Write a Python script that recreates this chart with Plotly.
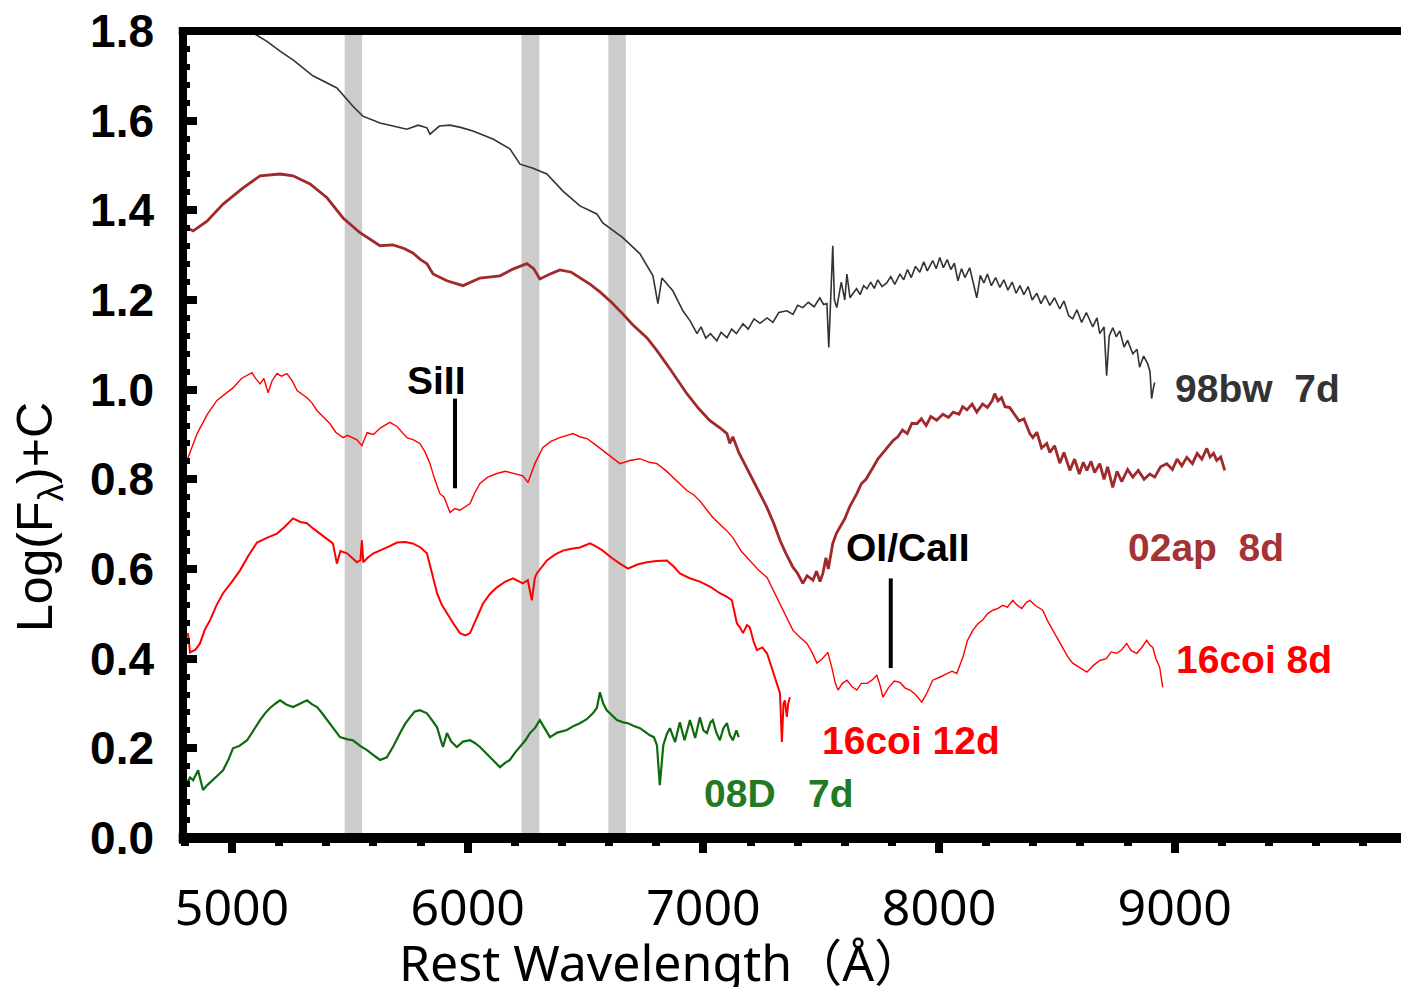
import plotly.graph_objects as go

# ---------------- data ----------------
w_98bw = [5060, 5148, 5204, 5260, 5343, 5445, 5513, 5555, 5628, 5690, 5742, 5790, 5827, 5840, 5880, 5925,
          5970, 6022, 6107, 6179, 6222, 6277, 6336, 6404, 6476, 6548, 6573, 6658, 6731, 6786, 6807, 6824,
          6871, 6913, 6943, 6973, 6990, 7010, 7030, 7057, 7075, 7100, 7120, 7140, 7168, 7190, 7215, 7240,
          7270, 7295, 7320, 7354, 7380, 7400, 7422, 7445, 7470, 7494, 7510, 7524, 7532, 7540, 7549, 7556,
          7566, 7585, 7600, 7609, 7622, 7634, 7650, 7665, 7680, 7694, 7710, 7725, 7740, 7758, 7778, 7795,
          7812, 7834, 7850, 7866, 7882, 7900, 7918, 7935, 7950, 7973, 7988, 8003, 8018, 8035, 8050, 8065,
          8080, 8095, 8110, 8130, 8145, 8160, 8175, 8190, 8205, 8222, 8240, 8258, 8275, 8292, 8310, 8327,
          8343, 8360, 8378, 8395, 8415, 8432, 8450, 8470, 8490, 8512, 8530, 8550, 8567, 8585, 8605, 8625,
          8652, 8670, 8682, 8700, 8711, 8722, 8737, 8752, 8767, 8785, 8800, 8822, 8840, 8851, 8868, 8885,
          8895, 8902, 8910, 8915]
f_98bw = [1.805, 1.777, 1.755, 1.735, 1.700, 1.673, 1.632, 1.610, 1.595, 1.588, 1.581, 1.590, 1.584, 1.570,
          1.588, 1.590, 1.585, 1.577, 1.559, 1.537, 1.503, 1.494, 1.481, 1.443, 1.410, 1.392, 1.372, 1.339,
          1.303, 1.254, 1.192, 1.249, 1.220, 1.176, 1.154, 1.125, 1.140, 1.115, 1.125, 1.109, 1.128, 1.116,
          1.135, 1.125, 1.147, 1.135, 1.158, 1.148, 1.160, 1.150, 1.172, 1.176, 1.168, 1.188, 1.183, 1.195,
          1.185, 1.205, 1.190, 1.192, 1.094, 1.200, 1.321, 1.200, 1.183, 1.240, 1.200, 1.258, 1.205, 1.214,
          1.225, 1.212, 1.232, 1.225, 1.240, 1.226, 1.245, 1.230, 1.238, 1.252, 1.235, 1.258, 1.245, 1.268,
          1.250, 1.275, 1.262, 1.285, 1.265, 1.288, 1.270, 1.295, 1.272, 1.290, 1.268, 1.282, 1.243, 1.270,
          1.250, 1.272, 1.240, 1.205, 1.255, 1.238, 1.258, 1.232, 1.250, 1.228, 1.245, 1.222, 1.240, 1.215,
          1.232, 1.212, 1.230, 1.200, 1.215, 1.192, 1.210, 1.188, 1.205, 1.180, 1.198, 1.165, 1.158, 1.178,
          1.150, 1.172, 1.140, 1.160, 1.125, 1.140, 1.031, 1.120, 1.138, 1.118, 1.131, 1.095, 1.110, 1.080,
          1.090, 1.050, 1.075, 1.058, 1.040, 0.980, 1.005, 1.016]

w_02ap = [4795, 4809, 4835, 4894, 4962, 5047, 5119, 5204, 5259, 5331, 5403, 5471, 5543, 5590, 5628, 5683,
          5730, 5767, 5800, 5827, 5853, 5912, 5980, 6052, 6137, 6192, 6251, 6280, 6306, 6350, 6391, 6440,
          6476, 6520, 6561, 6610, 6658, 6700, 6760, 6803, 6860, 6930, 6980, 7028, 7070, 7100, 7112, 7125,
          7150, 7197, 7230, 7270, 7300, 7325, 7350, 7380, 7400, 7422, 7440, 7465, 7480, 7495, 7507, 7520,
          7530, 7549, 7565, 7579, 7600, 7620, 7651, 7670, 7690, 7719, 7740, 7760, 7780, 7804, 7825, 7845,
          7865, 7885, 7906, 7925, 7945, 7965, 7990, 8016, 8040, 8060, 8085, 8100, 8118, 8140, 8160, 8185,
          8205, 8225, 8236, 8250, 8265, 8280, 8300, 8320, 8340, 8360, 8385, 8398, 8415, 8435, 8457, 8470,
          8490, 8512, 8530, 8555, 8575, 8595, 8612, 8627, 8645, 8660, 8682, 8700, 8715, 8737, 8755, 8775,
          8800, 8822, 8845, 8870, 8894, 8915, 8940, 8966, 8990, 9010, 9030, 9051, 9075, 9095, 9115, 9136,
          9150, 9165, 9178, 9195, 9212]
f_02ap = [1.362, 1.361, 1.354, 1.376, 1.414, 1.450, 1.477, 1.481, 1.477, 1.459, 1.428, 1.383, 1.350, 1.335,
          1.321, 1.323, 1.315, 1.305, 1.290, 1.281, 1.258, 1.243, 1.232, 1.249, 1.254, 1.269, 1.281, 1.270,
          1.247, 1.258, 1.267, 1.262, 1.249, 1.235, 1.218, 1.195, 1.169, 1.145, 1.116, 1.087, 1.045, 0.991,
          0.958, 0.931, 0.915, 0.902, 0.880, 0.895, 0.860, 0.813, 0.778, 0.737, 0.700, 0.664, 0.635, 0.604,
          0.590, 0.568, 0.585, 0.575, 0.595, 0.572, 0.590, 0.625, 0.600, 0.657, 0.680, 0.693, 0.712, 0.738,
          0.768, 0.790, 0.800, 0.826, 0.845, 0.858, 0.870, 0.886, 0.895, 0.910, 0.902, 0.925, 0.924, 0.935,
          0.920, 0.940, 0.932, 0.945, 0.938, 0.950, 0.945, 0.962, 0.955, 0.968, 0.950, 0.968, 0.960, 0.975,
          0.991, 0.975, 0.982, 0.962, 0.960, 0.945, 0.930, 0.935, 0.902, 0.893, 0.905, 0.870, 0.880, 0.860,
          0.875, 0.836, 0.860, 0.820, 0.845, 0.812, 0.838, 0.820, 0.840, 0.815, 0.835, 0.800, 0.828, 0.782,
          0.818, 0.795, 0.822, 0.805, 0.820, 0.800, 0.812, 0.805, 0.828, 0.835, 0.822, 0.845, 0.830, 0.849,
          0.835, 0.858, 0.845, 0.869, 0.850, 0.858, 0.842, 0.850, 0.820]

w_16coi_8d = [4809, 4852, 4895, 4936, 4970, 5004, 5040, 5085, 5100, 5119, 5135, 5153, 5170, 5191, 5210, 5233,
              5255, 5276, 5318, 5340, 5361, 5385, 5416, 5440, 5471, 5490, 5513, 5530, 5551, 5573, 5600, 5630,
              5670, 5700, 5742, 5770, 5797, 5820, 5840, 5860, 5882, 5900, 5925, 5945, 5967, 5990, 6010, 6030,
              6052, 6085, 6124, 6160, 6192, 6234, 6256, 6285, 6319, 6355, 6391, 6420, 6447, 6475, 6506, 6540,
              6573, 6610, 6646, 6688, 6731, 6770, 6803, 6840, 6871, 6900, 6930, 6960, 6985, 7010, 7040, 7070,
              7100, 7125, 7160, 7197, 7235, 7270, 7300, 7325, 7355, 7380, 7410, 7439, 7460, 7482, 7505, 7528,
              7545, 7560, 7571, 7590, 7609, 7630, 7651, 7670, 7694, 7715, 7736, 7750, 7762, 7785, 7810, 7834,
              7855, 7876, 7900, 7927, 7950, 7973, 8000, 8033, 8055, 8075, 8101, 8120, 8143, 8165, 8185, 8205,
              8228, 8250, 8270, 8290, 8313, 8330, 8351, 8370, 8385, 8410, 8440, 8460, 8483, 8505, 8525, 8545,
              8567, 8600, 8627, 8655, 8682, 8710, 8730, 8754, 8775, 8796, 8815, 8839, 8860, 8881, 8895, 8907,
              8920, 8936, 8949]
f_16coi_8d = [0.842, 0.902, 0.945, 0.976, 0.990, 1.004, 1.025, 1.038, 1.025, 1.013, 1.025, 0.993, 1.020, 1.036,
              1.030, 1.036, 1.020, 0.998, 0.982, 0.970, 0.953, 0.940, 0.924, 0.905, 0.893, 0.898, 0.893, 0.888,
              0.875, 0.904, 0.900, 0.915, 0.927, 0.918, 0.893, 0.888, 0.880, 0.860, 0.835, 0.800, 0.768, 0.760,
              0.726, 0.735, 0.731, 0.738, 0.746, 0.770, 0.791, 0.805, 0.813, 0.818, 0.813, 0.808, 0.793, 0.835,
              0.871, 0.885, 0.893, 0.898, 0.902, 0.895, 0.891, 0.878, 0.864, 0.850, 0.835, 0.842, 0.846, 0.838,
              0.835, 0.820, 0.804, 0.790, 0.775, 0.765, 0.752, 0.735, 0.715, 0.700, 0.685, 0.670, 0.640, 0.619,
              0.597, 0.581, 0.548, 0.523, 0.490, 0.463, 0.448, 0.434, 0.415, 0.390, 0.400, 0.414, 0.380, 0.345,
              0.330, 0.345, 0.352, 0.338, 0.330, 0.345, 0.345, 0.352, 0.363, 0.340, 0.314, 0.335, 0.350, 0.347,
              0.335, 0.330, 0.320, 0.303, 0.325, 0.352, 0.358, 0.367, 0.372, 0.367, 0.403, 0.440, 0.463, 0.478,
              0.486, 0.500, 0.508, 0.512, 0.519, 0.515, 0.530, 0.520, 0.512, 0.525, 0.530, 0.518, 0.508, 0.485,
              0.463, 0.445, 0.425, 0.405, 0.390, 0.378, 0.370, 0.385, 0.396, 0.400, 0.415, 0.412, 0.420, 0.434,
              0.418, 0.412, 0.425, 0.441, 0.430, 0.425, 0.400, 0.381, 0.336]

w_16coi_12d = [4813, 4822, 4845, 4864, 4885, 4907, 4935, 4962, 5000, 5034, 5070, 5106, 5150, 5191, 5225, 5259,
               5290, 5318, 5345, 5373, 5400, 5428, 5445, 5460, 5488, 5510, 5530, 5545, 5551, 5557, 5575, 5600,
               5628, 5665, 5700, 5735, 5767, 5800, 5827, 5850, 5870, 5890, 5912, 5940, 5967, 5990, 6010, 6040,
               6065, 6095, 6124, 6160, 6192, 6234, 6255, 6272, 6285, 6293, 6315, 6336, 6370, 6404, 6440, 6476,
               6519, 6546, 6573, 6610, 6646, 6680, 6720, 6760, 6800, 6845, 6875, 6900, 6940, 6985, 7030, 7070,
               7100, 7121, 7142, 7155, 7168, 7185, 7197, 7212, 7227, 7250, 7270, 7290, 7303, 7315, 7325, 7333,
               7340, 7346, 7354, 7360, 7367]
f_16coi_12d = [0.457, 0.414, 0.420, 0.434, 0.465, 0.486, 0.520, 0.546, 0.572, 0.597, 0.630, 0.659, 0.670, 0.679,
               0.695, 0.713, 0.705, 0.702, 0.690, 0.679, 0.668, 0.657, 0.612, 0.640, 0.635, 0.625, 0.615, 0.620,
               0.664, 0.615, 0.625, 0.635, 0.641, 0.650, 0.659, 0.660, 0.657, 0.648, 0.635, 0.590, 0.546, 0.520,
               0.501, 0.478, 0.457, 0.452, 0.457, 0.495, 0.523, 0.545, 0.559, 0.572, 0.579, 0.568, 0.575, 0.530,
               0.580, 0.590, 0.605, 0.619, 0.632, 0.641, 0.645, 0.648, 0.657, 0.650, 0.641, 0.625, 0.612, 0.601,
               0.610, 0.615, 0.618, 0.619, 0.605, 0.590, 0.580, 0.572, 0.560, 0.546, 0.538, 0.530, 0.479, 0.470,
               0.457, 0.475, 0.470, 0.440, 0.419, 0.425, 0.412, 0.380, 0.359, 0.340, 0.323, 0.214, 0.300, 0.307,
               0.270, 0.300, 0.314]

w_08D = [4795, 4809, 4822, 4835, 4856, 4870, 4877, 4895, 4919, 4940, 4962, 4985, 5004, 5030, 5064, 5090,
         5119, 5140, 5161, 5185, 5204, 5230, 5259, 5290, 5318, 5340, 5361, 5380, 5403, 5430, 5458, 5490,
         5513, 5545, 5573, 5600, 5628, 5657, 5685, 5713, 5735, 5755, 5775, 5797, 5815, 5827, 5850, 5870,
         5885, 5895, 5912, 5930, 5954, 5980, 6010, 6030, 6052, 6080, 6107, 6137, 6160, 6179, 6200, 6222,
         6245, 6264, 6285, 6306, 6325, 6349, 6380, 6421, 6450, 6476, 6505, 6531, 6548, 6561, 6575, 6590,
         6610, 6633, 6660, 6680, 6705, 6731, 6750, 6773, 6790, 6803, 6815, 6830, 6845, 6858, 6880, 6900,
         6920, 6943, 6965, 6985, 7000, 7015, 7030, 7040, 7055, 7070, 7085, 7100, 7112, 7125, 7140, 7150]
f_08D = [0.128, 0.122, 0.135, 0.129, 0.151, 0.120, 0.107, 0.118, 0.129, 0.140, 0.151, 0.175, 0.200, 0.205,
         0.218, 0.240, 0.263, 0.278, 0.290, 0.300, 0.307, 0.298, 0.292, 0.300, 0.307, 0.298, 0.292, 0.280,
         0.263, 0.245, 0.225, 0.220, 0.218, 0.205, 0.196, 0.185, 0.174, 0.180, 0.205, 0.234, 0.255, 0.269,
         0.282, 0.285, 0.280, 0.278, 0.262, 0.247, 0.220, 0.203, 0.234, 0.215, 0.203, 0.215, 0.218, 0.212,
         0.203, 0.188, 0.174, 0.158, 0.168, 0.174, 0.190, 0.203, 0.218, 0.234, 0.245, 0.263, 0.245, 0.225,
         0.235, 0.241, 0.250, 0.256, 0.265, 0.278, 0.290, 0.325, 0.300, 0.285, 0.275, 0.263, 0.258, 0.256,
         0.250, 0.245, 0.238, 0.229, 0.225, 0.207, 0.118, 0.207, 0.232, 0.245, 0.214, 0.258, 0.218, 0.263,
         0.223, 0.269, 0.240, 0.234, 0.258, 0.263, 0.235, 0.218, 0.245, 0.256, 0.230, 0.218, 0.240, 0.225]

# grey bands (wavelength ranges, Angstrom)
band_lo = [5478, 6228, 6597]
band_hi = [5552, 6304, 6671]

# line identification markers: wavelength, bottom, top
marker_names = ["SiII", "OI/CaII"]
marker_wave = [5946, 7795]
marker_low = [0.780, 0.379]
marker_high = [0.980, 0.579]

# spectrum labels
label_text = ["98bw\u00a0\u00a07d", "02ap\u00a0\u00a08d", "16coi 8d", "16coi 12d", "08D\u00a0\u00a0\u00a07d"]
label_x = [9352, 9131, 9335, 7880, 7320]
label_y = [1.002, 0.648, 0.399, 0.218, 0.100]

x_range = [4792, 9960]
y_range = [0.0, 1.8]

# ---------------- styles ----------------
C_98 = "#333333"
C_02 = "#a0292b"
C_RED = "#ff0000"
C_GRN = "#0d6b0d"
label_colors = [C_98, "#a33334", C_RED, C_RED, "#217a21"]

series = [
    (w_98bw, f_98bw, C_98, 1.6),
    (w_02ap, f_02ap, C_02, 2.8),
    (w_16coi_8d, f_16coi_8d, C_RED, 1.4),
    (w_16coi_12d, f_16coi_12d, C_RED, 2.0),
    (w_08D, f_08D, C_GRN, 2.2),
]

fig = go.Figure()
for wx, fy, col, lw in series:
    fig.add_trace(go.Scatter(x=wx, y=fy, mode="lines", line=dict(color=col, width=lw),
                             hoverinfo="skip", showlegend=False))

shapes = []
for lo, hi in zip(band_lo, band_hi):
    shapes.append(dict(type="rect", xref="x", yref="paper", x0=lo, x1=hi, y0=0, y1=1,
                       fillcolor="#cccccc", line=dict(width=0), layer="below"))
for wv, lo, hi in zip(marker_wave, marker_low, marker_high):
    shapes.append(dict(type="line", xref="x", yref="y", x0=wv, x1=wv, y0=lo, y1=hi,
                       line=dict(color="black", width=4)))
# frame (left, bottom, top)
shapes.append(dict(type="line", xref="paper", yref="paper", x0=0, x1=0, y0=-0.007, y1=1.005,
                   line=dict(color="black", width=8), layer="above"))
shapes.append(dict(type="line", xref="paper", yref="paper", x0=-0.0035, x1=1, y0=0, y1=0,
                   line=dict(color="black", width=10), layer="above"))
shapes.append(dict(type="line", xref="paper", yref="paper", x0=-0.0035, x1=1, y0=1, y1=1,
                   line=dict(color="black", width=8), layer="above"))

annotations = []
for t, x, y, c in zip(label_text, label_x, label_y, label_colors):
    annotations.append(dict(text=t, x=x, y=y, xref="x", yref="y", showarrow=False,
                            font=dict(family="Liberation Sans", size=39, color=c, weight="bold"),
                            xanchor="center", yanchor="middle"))
annotations.append(dict(text=marker_names[0], x=5869, y=1.020, xref="x", yref="y", showarrow=False,
                        font=dict(family="Liberation Sans", size=39, color="black", weight="bold")))
annotations.append(dict(text=marker_names[1], x=7868, y=0.648, xref="x", yref="y", showarrow=False,
                        font=dict(family="Liberation Sans", size=39, color="black", weight="bold")))
annotations.append(dict(text="Rest Wavelength\uff08\u00c5\uff09", x=0.393, y=-0.154, xref="paper", yref="paper",
                        showarrow=False, xanchor="center", yanchor="middle",
                        font=dict(family="Noto Sans, Noto Sans CJK JP", size=50, color="black")))
annotations.append(dict(text="Log(F<sub>\u03bb</sub>)+C", x=-0.118, y=0.398, xref="paper", yref="paper",
                        showarrow=False, xanchor="center", yanchor="middle", textangle=-90,
                        font=dict(family="Liberation Sans", size=50, color="black")))

fig.update_layout(
    width=1401, height=987,
    margin=dict(l=183, r=0, t=31, b=149, pad=0),
    paper_bgcolor="white", plot_bgcolor="white",
    shapes=shapes, annotations=annotations,
    xaxis=dict(range=x_range, showgrid=False, zeroline=False, showline=False,
               tick0=5000, dtick=1000, tickformat="d", ticks="outside", ticklen=14, tickwidth=8,
               tickcolor="black",
               tickfont=dict(family="Noto Sans", size=50, color="black"), ticklabelstandoff=12,
               minor=dict(tick0=5000, dtick=200, ticks="outside", ticklen=7, tickwidth=8, tickcolor="black")),
    xaxis2=dict(range=x_range, overlaying="x", side="bottom", anchor="y", showgrid=False, zeroline=False,
                showline=False, showticklabels=False, tick0=5000, dtick=1000, ticks="inside", ticklen=14,
                tickwidth=8, tickcolor="black",
                minor=dict(tick0=5000, dtick=200, ticks="inside", ticklen=7, tickwidth=8, tickcolor="black")),
    xaxis3=dict(range=x_range, overlaying="x", side="top", anchor="y", showgrid=False, zeroline=False,
                showline=False, showticklabels=False, tick0=5000, dtick=1000, ticks="inside", ticklen=12,
                tickwidth=8, tickcolor="black",
                minor=dict(tick0=5000, dtick=200, ticks="inside", ticklen=6, tickwidth=8, tickcolor="black")),
    yaxis=dict(range=y_range, showgrid=False, zeroline=False, showline=False,
               tick0=0, dtick=0.2, tickformat=".1f", ticks="inside", ticklen=14, tickwidth=8, tickcolor="black",
               tickfont=dict(family="Liberation Sans", size=46, color="black", weight="bold"),
               ticklabelstandoff=28,
               minor=dict(tick0=0, dtick=0.04, ticks="inside", ticklen=7, tickwidth=6, tickcolor="black")),
    yaxis2=dict(range=y_range, overlaying="y", side="right", anchor="x", showgrid=False, zeroline=False,
                showline=False, showticklabels=False, tick0=0, dtick=0.2, ticks="inside", ticklen=5,
                tickwidth=8, tickcolor="black"),
)

fig.write_html("out.html")
